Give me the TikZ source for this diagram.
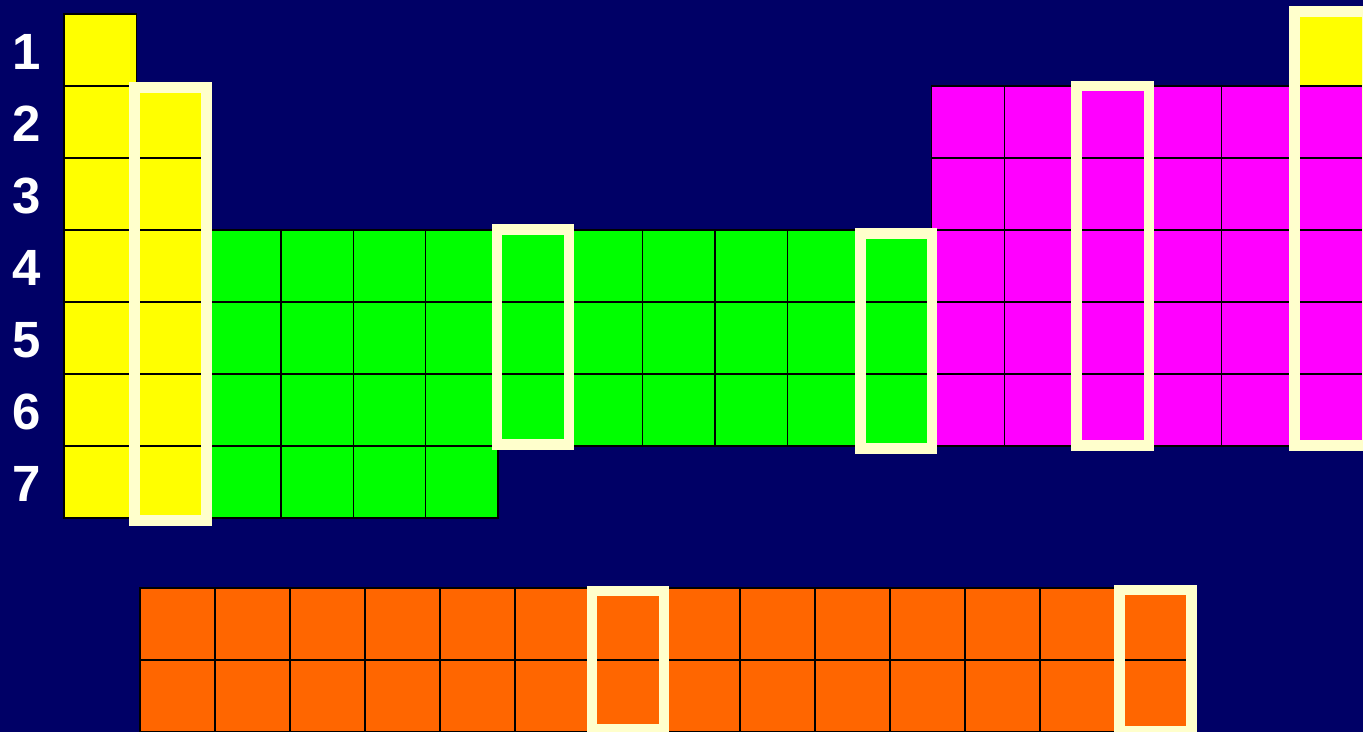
\documentclass[tikz,border=0pt]{standalone}
\usepackage{fontspec}
\setmainfont{Liberation Sans}
\usetikzlibrary{positioning}

\definecolor{bgnavy}{HTML}{000066}
\definecolor{sblock}{HTML}{FFFF00}
\definecolor{dblock}{HTML}{00FF00}
\definecolor{pblock}{HTML}{FF00FF}
\definecolor{fblock}{HTML}{FF6600}
\definecolor{hilite}{HTML}{FFFFCC}

\tikzset{
  cell/.style={draw=black, line width=0.6pt},
  groupbox/.style={draw=hilite, line width=6pt},
  period/.style={text=white, font=\fontsize{29}{29}\selectfont\bfseries},
}

% one cell of the main table (column, row, colour)
\newcommand{\ptcell}[3]{%
  \filldraw[cell, fill=#3] ({64+(#1-1)*72.33},{14+(#2-1)*72}) rectangle ++(72.33,72);}
% one cell of the lower two rows
\newcommand{\fcell}[2]{%
  \filldraw[cell, fill=fblock] ({140+(#1-1)*75},{588+(#2-1)*72}) rectangle ++(75,72);}

\begin{document}
\begin{tikzpicture}[x=0.02cm, y=-0.02cm]
  % background, same size as the slide
  \clip (0,0) rectangle (1363,732);
  \fill[bgnavy] (0,0) rectangle (1363,732);

  % s block
  \foreach \r in {1,...,7} \ptcell{1}{\r}{sblock};
  \foreach \r in {2,...,7} \ptcell{2}{\r}{sblock};
  \ptcell{18}{1}{sblock};
  % d block
  \foreach \c in {3,...,12}
    \foreach \r in {4,5,6} \ptcell{\c}{\r}{dblock};
  \foreach \c in {3,...,6} \ptcell{\c}{7}{dblock};
  % p block
  \foreach \c in {13,...,18}
    \foreach \r in {2,...,6} \ptcell{\c}{\r}{pblock};
  % f block
  \foreach \c in {1,...,14}
    \foreach \r in {1,2} \fcell{\c}{\r};

  % period numbers
  \foreach \r in {1,...,7}
    \node[period] (per\r) at (27, {52+(\r-1)*72}) {\r};

  % highlighted columns
  \draw[groupbox] (134.5,87.5) rectangle (206.5,520.7);
  \draw[groupbox] (497,229.7) rectangle (569,444.7);
  \draw[groupbox] (860.3,233.7) rectangle (932,448.7);
  \draw[groupbox] (1076.7,86.2) rectangle (1148.8,445.3);
  \draw[groupbox] (1294.7,11.3) rectangle (1367,445.3);
  \draw[groupbox] (592,590.8) rectangle (664,729.5);
  \draw[groupbox] (1119.3,590) rectangle (1191.3,731);
\end{tikzpicture}
\end{document}
